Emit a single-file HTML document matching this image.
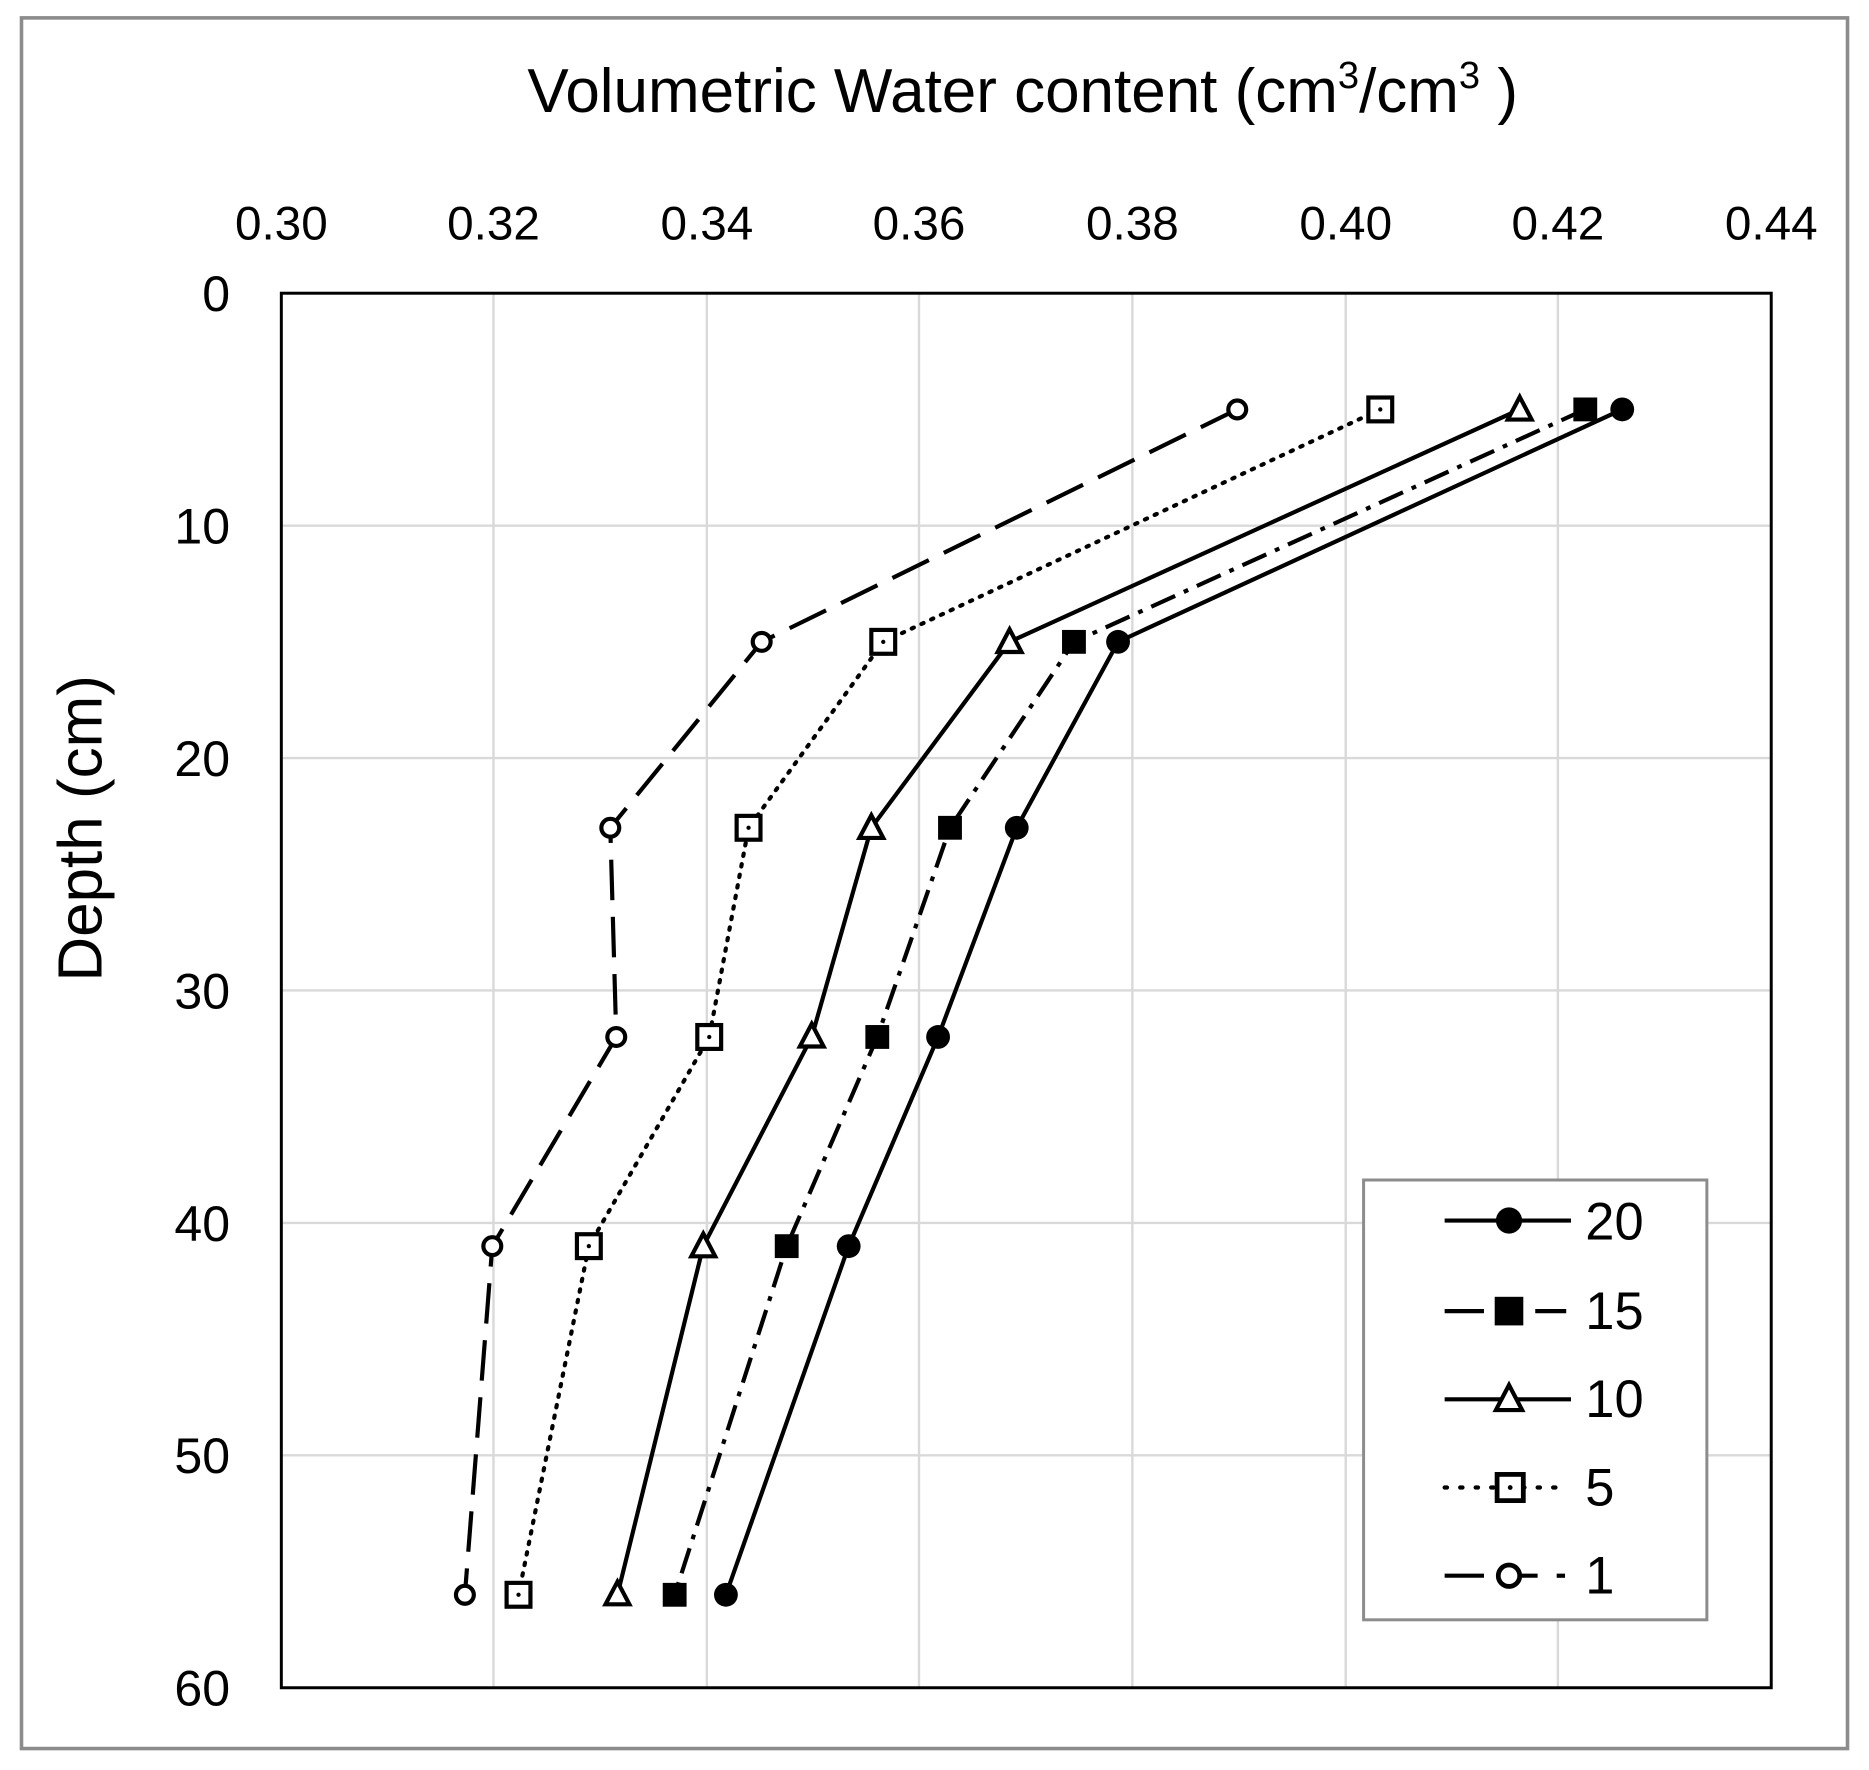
<!DOCTYPE html>
<html><head><style>html,body{margin:0;padding:0;background:#fff}svg{display:block}</style></head>
<body>
<svg width="1869" height="1770" viewBox="0 0 1568 1485" xmlns="http://www.w3.org/2000/svg" font-family="'Liberation Sans', sans-serif">
<rect x="0" y="0" width="1568" height="1485" fill="#fff"/>
<rect x="18" y="15" width="1532" height="1452" fill="none" stroke="#8c8c8c" stroke-width="3"/>
<g stroke="#d9d9d9" stroke-width="2">
<line x1="414" y1="246" x2="414" y2="1416"/><line x1="593" y1="246" x2="593" y2="1416"/>
<line x1="771" y1="246" x2="771" y2="1416"/><line x1="950" y1="246" x2="950" y2="1416"/>
<line x1="1129" y1="246" x2="1129" y2="1416"/><line x1="1307" y1="246" x2="1307" y2="1416"/>
<line x1="236" y1="441" x2="1486" y2="441"/><line x1="236" y1="636" x2="1486" y2="636"/>
<line x1="236" y1="831" x2="1486" y2="831"/><line x1="236" y1="1026" x2="1486" y2="1026"/>
<line x1="236" y1="1221" x2="1486" y2="1221"/>
</g>
<rect x="236" y="246" width="1250" height="1170" fill="none" stroke="#000" stroke-width="2.5"/>
<text x="858" y="94" font-size="52" text-anchor="middle">Volumetric Water content (cm<tspan font-size="32" dy="-20">3</tspan><tspan dy="20">/cm</tspan><tspan font-size="32" dy="-20">3</tspan><tspan dy="20"> )</tspan></text>
<g font-size="40" text-anchor="middle">
<text x="236" y="201">0.30</text><text x="414" y="201">0.32</text><text x="593" y="201">0.34</text><text x="771" y="201">0.36</text><text x="950" y="201">0.38</text><text x="1129" y="201">0.40</text><text x="1307" y="201">0.42</text><text x="1486" y="201">0.44</text>
</g>
<g font-size="42" text-anchor="end">
<text x="193" y="261">0</text><text x="193" y="456">10</text><text x="193" y="651">20</text><text x="193" y="846">30</text><text x="193" y="1041">40</text><text x="193" y="1236">50</text><text x="193" y="1431">60</text>
</g>
<text transform="translate(85,695) rotate(-90)" font-size="52" text-anchor="middle">Depth (cm)</text>
<g fill="none" stroke="#000" stroke-width="3.5">
<polyline points="1361,343.5 938,538.5 853,694.5 787,870 712,1045.5 609,1338"/>
<polyline points="1330,343.5 901,538.5 797,694.5 736,870 660,1045.5 566,1338" stroke-dasharray="22,8,4,8"/>
<polyline points="1275,343.5 847,538.5 731,694.5 681,870 590,1045.5 518,1338"/>
<polyline points="1158,343.5 741,538.5 628,694.5 595,870 494,1045.5 435,1338" stroke-dasharray="2,7" stroke-linecap="round"/>
<polyline points="1038,343.5 639,538.5 512,694.5 517,870 413,1045.5 390,1338" stroke-dasharray="34,14"/>
</g>
<g fill="#000">
<circle cx="1361" cy="343.5" r="10"/><circle cx="938" cy="538.5" r="10"/><circle cx="853" cy="694.5" r="10"/><circle cx="787" cy="870" r="10"/><circle cx="712" cy="1045.5" r="10"/><circle cx="609" cy="1338" r="10"/>
</g>
<g fill="#000">
<rect x="1320" y="333.5" width="20" height="20"/><rect x="891" y="528.5" width="20" height="20"/><rect x="787" y="684.5" width="20" height="20"/><rect x="726" y="860" width="20" height="20"/><rect x="650" y="1035.5" width="20" height="20"/><rect x="556" y="1328" width="20" height="20"/>
</g>
<g fill="#fff" stroke="#000" stroke-width="3.5">
<polygon points="1275,333 1285,352 1265,352"/><polygon points="847,528 857,547 837,547"/><polygon points="731,684 741,703 721,703"/><polygon points="681,859 691,878 671,878"/><polygon points="590,1035 600,1054 580,1054"/><polygon points="518,1327 528,1346 508,1346"/>
<rect x="1148" y="333.5" width="20" height="20"/><rect x="731" y="528.5" width="20" height="20"/><rect x="618" y="684.5" width="20" height="20"/><rect x="585" y="860" width="20" height="20"/><rect x="484" y="1035.5" width="20" height="20"/><rect x="425" y="1328" width="20" height="20"/>
<circle cx="1038" cy="343.5" r="7.5"/><circle cx="639" cy="538.5" r="7.5"/><circle cx="512" cy="694.5" r="7.5"/><circle cx="517" cy="870" r="7.5"/><circle cx="413" cy="1045.5" r="7.5"/><circle cx="390" cy="1338" r="7.5"/>
</g>
<g fill="#000">
<circle cx="1158" cy="343.5" r="1.8"/><circle cx="741" cy="538.5" r="1.8"/><circle cx="628" cy="694.5" r="1.8"/><circle cx="595" cy="870" r="1.8"/><circle cx="494" cy="1045.5" r="1.8"/><circle cx="435" cy="1338" r="1.8"/>
</g>
<rect x="1144" y="990" width="288" height="369" fill="#fff" stroke="#8c8c8c" stroke-width="2.5"/>
<g stroke="#000" stroke-width="3.5" fill="none">
<line x1="1212" y1="1024" x2="1318" y2="1024"/>
<line x1="1212" y1="1100" x2="1245" y2="1100"/><line x1="1288" y1="1100" x2="1314" y2="1100"/>
<line x1="1212" y1="1174" x2="1318" y2="1174"/>
<line x1="1212" y1="1248" x2="1314" y2="1248" stroke-dasharray="2,11" stroke-linecap="round"/>
<line x1="1212" y1="1322" x2="1245" y2="1322"/><line x1="1270" y1="1322" x2="1290" y2="1322"/><line x1="1306" y1="1322" x2="1313" y2="1322"/>
</g>
<circle cx="1266" cy="1024" r="11" fill="#000"/>
<rect x="1254" y="1088" width="24" height="24" fill="#000"/>
<polygon points="1266,1162 1277,1183 1255,1183" fill="#fff" stroke="#000" stroke-width="3.5"/>
<rect x="1256" y="1237" width="22" height="22" fill="#fff" stroke="#000" stroke-width="4"/>
<circle cx="1267" cy="1248" r="2" fill="#000"/>
<circle cx="1266" cy="1322" r="9" fill="#fff" stroke="#000" stroke-width="4"/>
<g font-size="44">
<text x="1330" y="1040">20</text><text x="1330" y="1115">15</text><text x="1330" y="1189">10</text><text x="1330" y="1263">5</text><text x="1330" y="1337">1</text>
</g>
</svg>
</body></html>
